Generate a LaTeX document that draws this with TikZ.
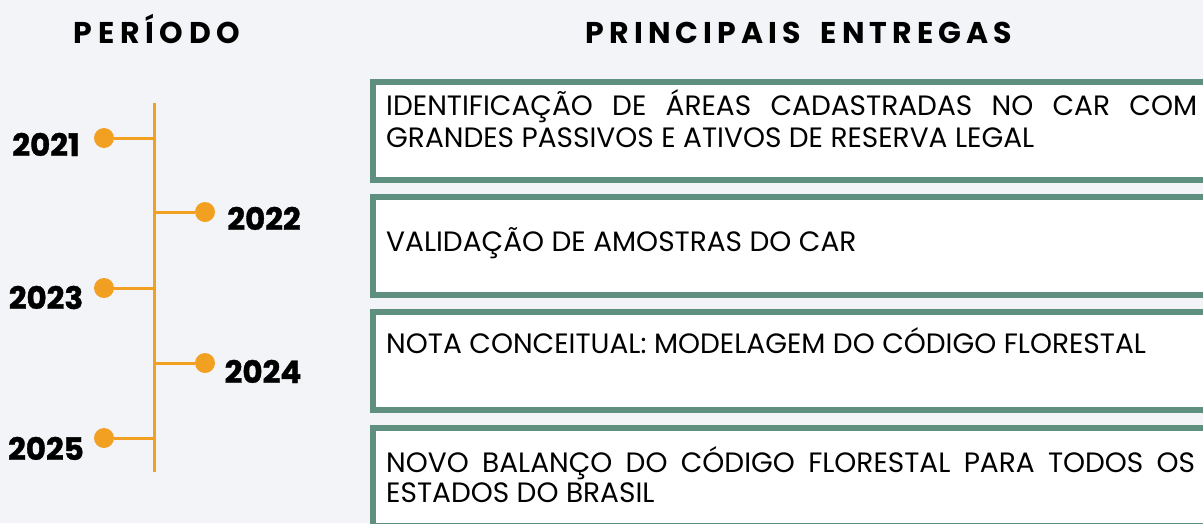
\documentclass[tikz,border=0pt]{standalone}
\usepackage{fontspec}
\setmainfont{Poppins}
\newfontfamily\headfont[LetterSpace=19]{Poppins}
\newfontfamily\headfontb[LetterSpace=17]{Poppins}
\newfontfamily\boxfont{Poppins}
\newfontfamily\yearfont[FakeBold=1.2]{Poppins}
\definecolor{bgc}{HTML}{F3F4F8}
\definecolor{greenb}{HTML}{5F8F7E}
\definecolor{orangel}{HTML}{F2A022}
\tikzset{
  deliv/.style={draw=greenb, line width=6pt, fill=white, anchor=north west, minimum width=900pt, minimum height=98pt, inner sep=0pt},
  deltext/.style={anchor=base west, inner sep=0pt, font=\boxfont\fontsize{28}{32}\selectfont},
  head/.style={font=\headfont\bfseries\fontsize{30}{34}\selectfont, inner sep=0pt, anchor=base},
  year/.style={font=\yearfont\bfseries\fontsize{31}{34}\selectfont, inner sep=0pt, anchor=base},
  dot/.style={circle, fill=orangel, minimum size=20pt, inner sep=0pt},
  tline/.style={draw=orangel, line width=3pt}
}
\begin{document}
\begin{tikzpicture}[x=1pt,y=-1pt]
\fill[bgc] (0,0) rectangle (1203,523);
\useasboundingbox (0,0) rectangle (1203,523);
\begin{scope}
\clip (0,0) rectangle (1203,523);
\node[deliv] (b1) at (369.5,79) {};
\node[deliv] (b2) at (369.5,194) {};
\node[deliv] (b3) at (369.5,309) {};
\node[deliv] (b4) at (369.5,424.5) {};
\end{scope}
\node[head] (h1) at (157,43) {PERÍODO};
\node[head, font=\headfontb\bfseries\fontsize{30}{34}\selectfont] (h2) at (799,43) {PRINCIPAIS\hspace{20pt}ENTREGAS};

\node[deltext] (t1a) at (386,115) {\makebox[811pt][s]{IDENTIFICAÇÃO DE ÁREAS CADASTRADAS NO CAR COM}};
\node[deltext] (t1b) at (386,147) {GRANDES PASSIVOS E ATIVOS DE RESERVA LEGAL};
\node[deltext] (t2) at (386,251) {VALIDAÇÃO DE AMOSTRAS DO CAR};
\node[deltext] (t3) at (386,353) {NOTA CONCEITUAL: MODELAGEM DO CÓDIGO FLORESTAL};
\node[deltext] (t4a) at (386,472) {\makebox[809pt][s]{NOVO BALANÇO DO CÓDIGO FLORESTAL PARA TODOS OS}};
\node[deltext] (t4b) at (386,502) {ESTADOS DO BRASIL};

\coordinate (top) at (154,103);
\coordinate (bot) at (154,472);
\draw[tline] (top) -- (bot);
\node[dot] (d1) at (104,138) {};
\node[dot] (d2) at (205,212) {};
\node[dot] (d3) at (104,288) {};
\node[dot] (d4) at (205,363) {};
\node[dot] (d5) at (104,438) {};
\coordinate (j1) at (154,138);
\coordinate (j2) at (154,212);
\coordinate (j3) at (154,288);
\coordinate (j4) at (154,363);
\coordinate (j5) at (154,438);
\draw[tline] (d1) -- (j1);
\draw[tline] (d2) -- (j2);
\draw[tline] (d3) -- (j3);
\draw[tline] (d4) -- (j4);
\draw[tline] (d5) -- (j5);
\node[year] (y1) at (46,156) {2021};
\node[year] (y2) at (264,230) {2022};
\node[year] (y3) at (46,309) {2023};
\node[year] (y4) at (263,383) {2024};
\node[year] (y5) at (46,460) {2025};
\end{tikzpicture}
\end{document}
